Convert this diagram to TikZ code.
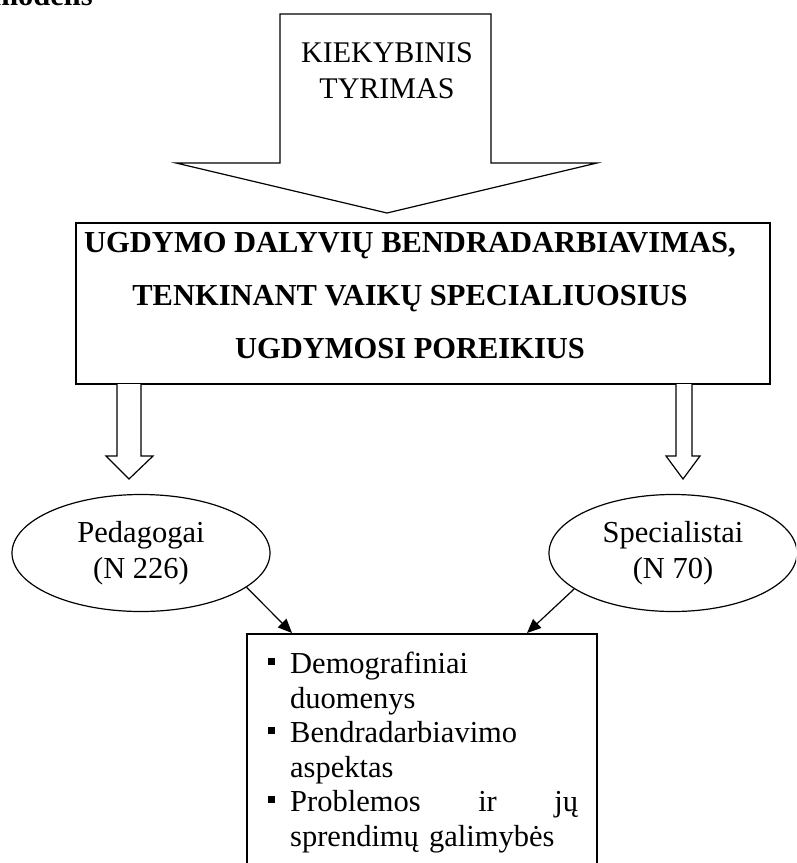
\documentclass[tikz,border=0pt]{standalone}
\usepackage{fontspec}
\setmainfont{Liberation Serif}
\usetikzlibrary{shapes.geometric,arrows.meta}
\newcommand{\sqbullet}{\leavevmode\llap{\rule[9pt]{7pt}{7pt}\hspace{15pt}}}
\begin{document}
\begin{tikzpicture}[x=1pt,y=-1pt,line join=miter,>={Triangle[length=14pt,width=12pt]},
	plain/.style={font=\fontsize{30}{36}\selectfont,align=center,inner sep=0pt},
	group/.style={draw,line width=1.2pt,ellipse,inner sep=0pt,minimum height=117pt,font=\fontsize{30.5}{36}\selectfont,align=center},
	hollow/.style={draw,line width=1.2pt,fill=white}]
	\clip (0,0) rectangle (796,863);
	% heading cut at the top
	\node[font=\fontsize{30.5}{36}\selectfont\bfseries,anchor=base east,inner sep=0pt] (heading) at (93,5) {modelis};
	% big arrow
	\draw[hollow] (280,14) -- (491,14) -- (491,163) -- (597,163) -- (387,213) -- (176,163) -- (280,163) -- cycle;
	\node[plain] (survey) at (387,71) {KIEKYBINIS\\TYRIMAS};
	% main box
	\node[draw,line width=2.2pt,minimum width=694pt,minimum height=161pt] (frame) at (423,303.5) {};
	\node[font=\fontsize{30.5}{53}\selectfont\bfseries,align=center,inner sep=0pt] (title) at (410,296)
		{UGDYMO DALYVIŲ BENDRADARBIAVIMAS,\\TENKINANT VAIKŲ SPECIALIUOSIUS\\UGDYMOSI POREIKIUS};
	% hollow arrows
	\draw[hollow] (117,384) -- (117,456) -- (106,456) -- (129,479) -- (153,456) -- (141,456) -- (141,384);
	\draw[hollow] (676,384) -- (676,456) -- (666,456) -- (683,479) -- (700,456) -- (692,456) -- (692,384);
	% groups
	\node[group,minimum width=258pt] (pedagog) at (141,553) {Pedagogai\\(N 226)};
	\node[group,minimum width=248pt] (spec) at (673,553) {Specialistai\\(N 70)};
	% list
	\node[draw,line width=2pt,anchor=north west,minimum width=350pt,minimum height=300pt] (listbox) at (246,633) {};
	\node[font=\fontsize{30.5}{34.5}\selectfont,text width=288pt,align=left,inner sep=0pt,anchor=north west] (aspects) at (290,652)
		{\sqbullet Demografiniai\\duomenys\\\sqbullet Bendradarbiavimo\\aspektas\\\sqbullet Problemos\hfill ir\hfill jų\\sprendimų galimybės\hfill\null};
	\coordinate (tipL) at ([xshift=46pt]listbox.north west);
	\coordinate (tipR) at ([xshift=281pt]listbox.north west);
	\draw[->,line width=1.2pt] (pedagog.-18) -- (tipL);
	\draw[->,line width=1.2pt] (spec.-160) -- (tipR);
\end{tikzpicture}
\end{document}
